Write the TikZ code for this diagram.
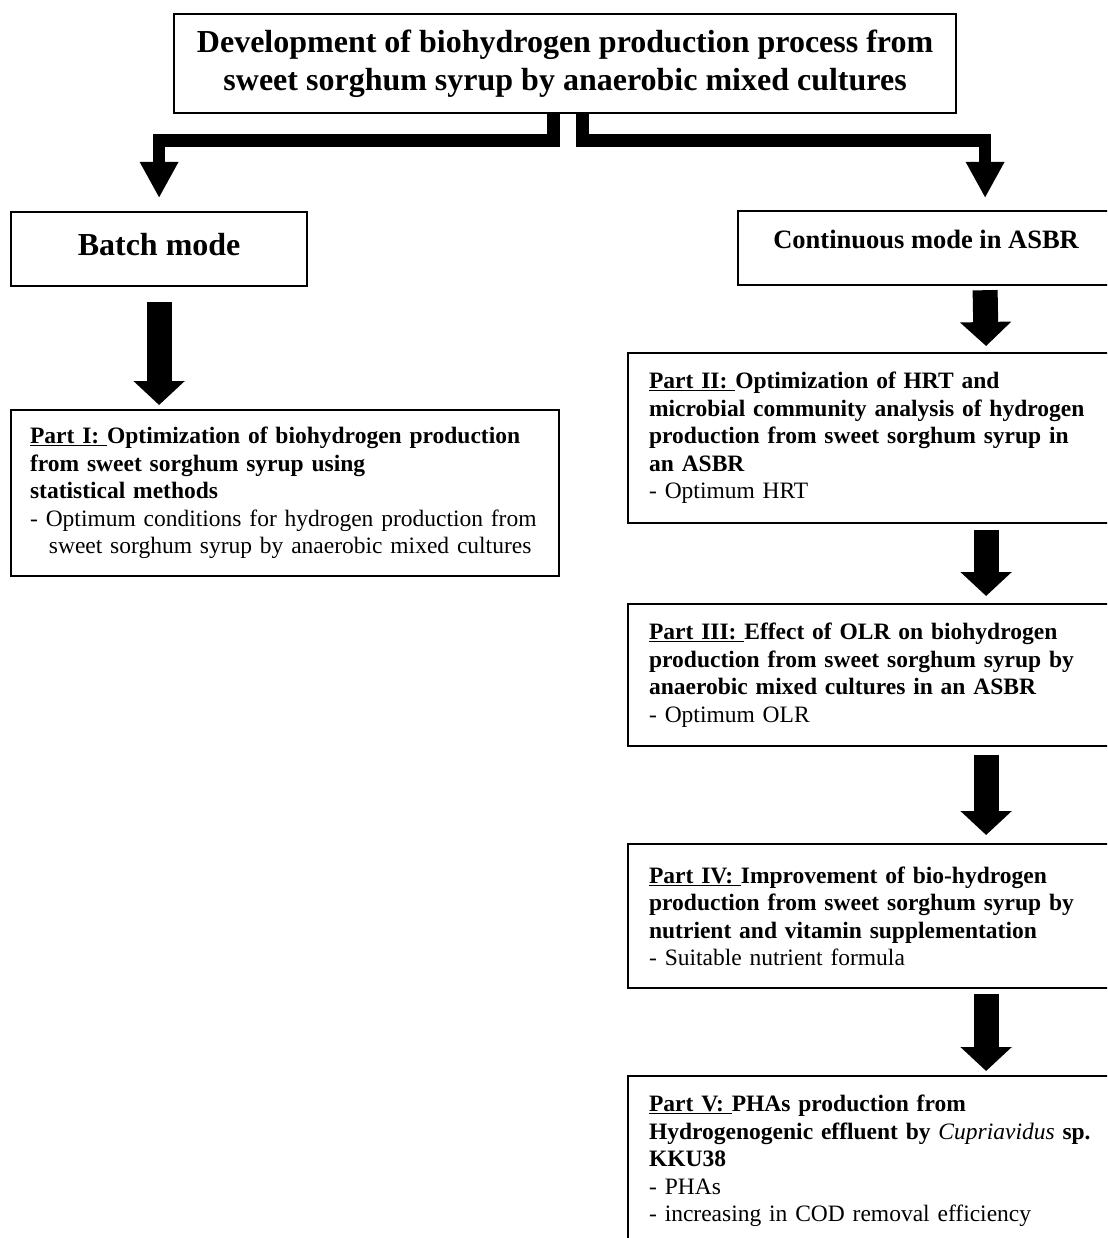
\documentclass[tikz,border=0pt]{standalone}
\usepackage{fontspec}
\setmainfont{Liberation Serif}
\usetikzlibrary{arrows.meta,positioning}

\tikzset{
  box/.style={draw, line width=2.2pt, inner sep=0pt, anchor=north west, align=center},
  partbox/.style={draw, line width=2.2pt, anchor=north west, align=left,
    inner xsep=21pt, inner ysep=0pt, font=\fontsize{23.5}{27.5}\selectfont},
  blockarrow/.style={line width=25pt, -{Triangle[width=50pt,length=24pt]}},
  elbowarrow/.style={line width=12.5pt, line join=miter, -{Triangle[width=36pt,length=36pt]}},
}

\begin{document}
\begin{tikzpicture}[x=1pt,y=-1pt]
\useasboundingbox (0,0) rectangle (1107,1238);
\clip (0,0) rectangle (1107,1238);

\node[box, minimum width=782pt, minimum height=99pt,
  font=\bfseries\fontsize{32}{38}\selectfont] (title) at (173,13)
  {Development of biohydrogen production process from\\ sweet sorghum syrup by anaerobic mixed cultures};

\node[box, minimum width=296pt, minimum height=74pt, text depth=10pt,
  font=\bfseries\fontsize{32}{36}\selectfont] (batch) at (10,211) {Batch mode};

\node[box, minimum width=376pt, minimum height=74pt, text depth=18pt,
  font=\bfseries\fontsize{26.5}{30}\selectfont] (cont) at (737,210) {Continuous mode in ASBR};

%left column
\node[partbox, inner xsep=19pt, text width=510pt, minimum height=166pt] (p1) at (10,409)
  {\bfseries\underline{Part I:~}Optimization of biohydrogen production\\
   from sweet sorghum syrup using\\
   statistical methods\\
   \mdseries - Optimum conditions for hydrogen production from\\
   \hspace*{0.8em}sweet sorghum syrup by anaerobic mixed cultures};

%right column
\node[partbox, text width=674pt, minimum height=170pt] (p2) at (627,352)
  {\bfseries\underline{Part II:~}Optimization of HRT and\\
   microbial community analysis of hydrogen\\
   production from sweet sorghum syrup in\\
   an ASBR\\
   \mdseries - Optimum HRT};

\node[partbox, text width=674pt, minimum height=142pt] (p3) at (627,603)
  {\bfseries\underline{Part III:~}Effect of OLR on biohydrogen\\
   production from sweet sorghum syrup by\\
   anaerobic mixed cultures in an ASBR\\
   \mdseries - Optimum OLR};

\node[partbox, text width=674pt, minimum height=144pt] (p4) at (627,843)
  {\bfseries\underline{Part IV:~}Improvement of bio-hydrogen\\
   production from sweet sorghum syrup by\\
   nutrient and vitamin supplementation\\
   \mdseries - Suitable nutrient formula};

\node[partbox, text width=674pt, minimum height=170pt] (p5) at (627,1075)
  {\bfseries\underline{Part V:~}PHAs production from\\
   Hydrogenogenic effluent by {\mdseries\itshape Cupriavidus} sp.\\
   KKU38\\
   \mdseries - PHAs\\
   - increasing in COD removal efficiency};

\draw[elbowarrow] ([xshift=-11.5pt]title.south) -- ++(0,26.5) -| ([yshift=13pt]batch.north);
\draw[elbowarrow] ([xshift=17.5pt]title.south) -- ++(0,26.5) -| ([xshift=59pt,yshift=12pt]cont.north);

\draw[blockarrow, shorten >=4pt] ([yshift=-15pt]batch.south) -- (batch.south |- p1.north);
\draw[blockarrow] ([xshift=59pt,yshift=-4pt]cont.south) -- ([yshift=6pt]p2.north);
\draw[blockarrow] ([yshift=-6pt]p2.south) -- ([yshift=7pt]p3.north);
\draw[blockarrow] ([yshift=-8pt]p3.south) -- ([yshift=8pt]p4.north);
\draw[blockarrow] ([yshift=-5pt]p4.south) -- ([yshift=4pt]p5.north);

\end{tikzpicture}
\end{document}
